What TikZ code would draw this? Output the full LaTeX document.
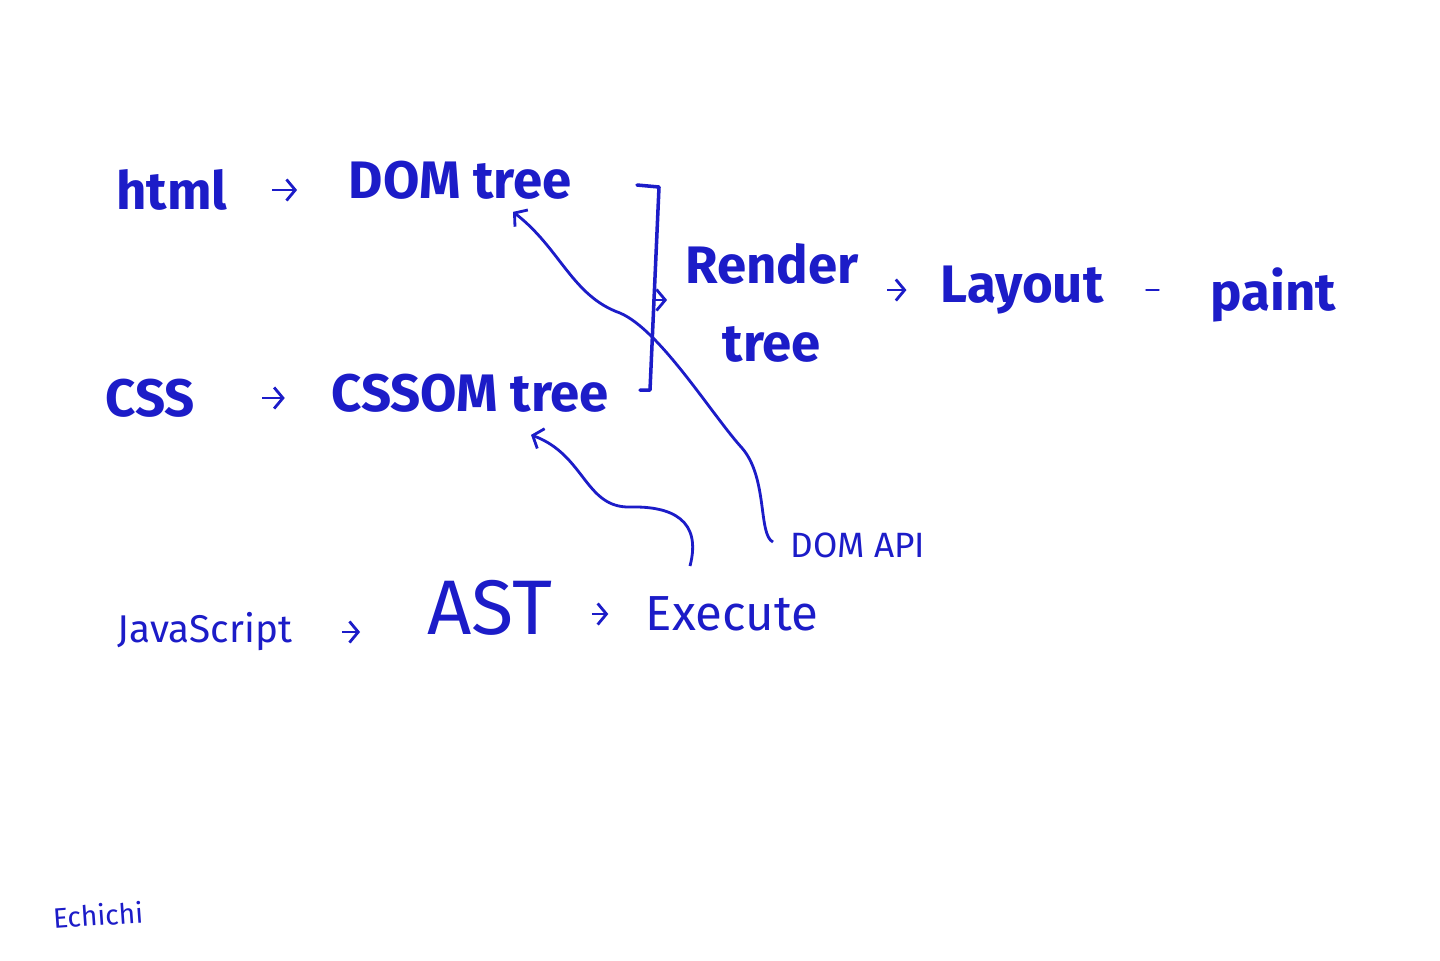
\documentclass[tikz,border=0pt]{standalone}
\usepackage{fontspec}
\setmainfont{Fira Sans}
\usetikzlibrary{arrows.meta,positioning,calc}
\definecolor{ink}{HTML}{1C1CC8}
\tikzset{
  fat/.style={text=ink, inner sep=0pt, font=\fontsize{15}{22}\selectfont\bfseries},
  hand/.style={text=ink, inner sep=0pt},
  arr/.style={-{Straight Barb[length=2.5pt,width=6pt]}, draw=ink, line width=0.8pt},
  pen/.style={draw=ink, line width=0.8pt, line cap=round, line join=round},
}
\begin{document}
\begin{tikzpicture}[x=0.01cm, y=-0.01cm]
  \fill[white] (0,0) rectangle (1440,960);
  \useasboundingbox (0,0) rectangle (1440,960);
  % top two rows
  \node[fat] (html) at (172,190) {html};
  \node[fat] (dom) at (460,180) {DOM tree};
  \node[fat] (css) at (150,398) {CSS};
  \node[fat] (cssom) at (470,393) {CSSOM tree};
  \node[fat, align=center] (render) at (772,303) {Render\\tree};
  \node[fat] (layout) at (1022,290) {Layout};
  \node[fat] (paint) at (1273,295) {paint};
  % javascript row
  \node[hand, font=\fontsize{11}{13}\selectfont] (js) at (205,632) {JavaScript};
  \node[hand, font=\fontsize{22}{26}\selectfont] (ast) at (490,608) {AST};
  \node[hand, font=\fontsize{14}{16}\selectfont] (exec) at (732,614) {Execute};
  \node[hand, font=\fontsize{10}{12}\selectfont] (domapi) at (858,545) {DOM API};
  \node[hand, font=\fontsize{8}{10}\selectfont, rotate=4] (sign) at (98,915) {Echichi};
  % short arrows
  \draw[arr, shorten <=12.5pt, shorten >=14.5pt] (html.east) -- (dom.west |- html.east);
  \draw[arr, shorten <=19pt, shorten >=13pt] (css.east) -- (cssom.west |- css.east);
  \draw[arr, shorten <=8pt, shorten >=9.5pt] (render.east |- layout) -- (layout.west);
  \draw[pen, shorten <=12pt, shorten >=14.5pt] (layout.east) -- (paint.west |- layout.east);
  \draw[arr, shorten <=14pt, shorten >=19pt] (js.east) -- (ast.west |- js.east);
  \draw[arr, shorten <=11pt, shorten >=10.5pt] (ast.east |- exec.west) -- (exec.west);
  % bracket into render tree
  \draw[pen, line width=1pt] (637,185) -- (659,187) -- (650,390) -- (640,390);
  \coordinate (brk) at (652,300);
  \draw[arr, shorten >=5pt] (brk) -- (render.west |- brk);
  % DOM API back to DOM tree
  \coordinate (apistart) at (773,542);
  \draw[arr] (apistart) .. controls (758,535) and (768,478) .. (742,448)
    .. controls (712,415) and (660,330) .. (620,313)
    .. controls (572,296) and (560,248) .. ($(dom.south)+(53,12)$);
  % Execute back to CSSOM tree
  \coordinate (exstart) at (690,566);
  \draw[arr] (exstart) .. controls (702,520) and (672,506) .. (630,507)
    .. controls (585,508) and (585,455) .. ($(cssom.south)+(61,22)$);
\end{tikzpicture}
\end{document}
